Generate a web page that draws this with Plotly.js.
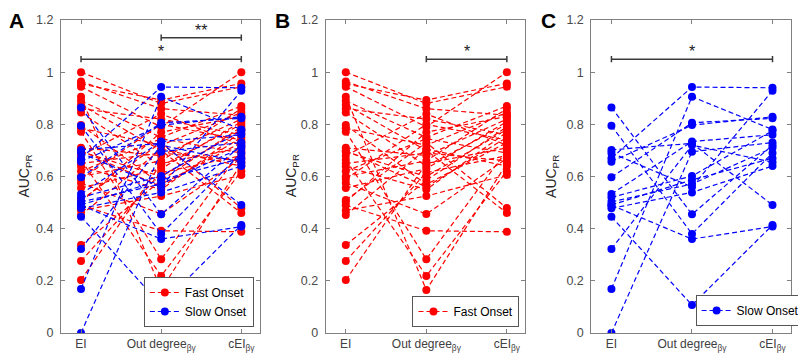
<!DOCTYPE html>
<html><head><meta charset="utf-8">
<script src="https://cdn.plot.ly/plotly-3.0.1.min.js"></script>
<style>html,body{margin:0;padding:0;overflow:hidden;background:#fff}#chart{width:806px;height:358px}</style>
</head><body><div id="chart"></div>
<script>
// ---- data ----
const categories = [1, 2, 3];
const tickLabels = ['EI', 'Out degree<sub>βγ</sub>', 'cEI<sub>βγ</sub>'];
const yTicks = [0, 0.2, 0.4, 0.6, 0.8, 1, 1.2];
const yTickText = ['0', '0.2', '0.4', '0.6', '0.8', '1', '1.2'];

// Fast onset patients (EI, Out degree, cEI)
const fastEI  = [1.00, 0.964, 0.955, 0.944, 0.906, 0.89, 0.875, 0.86, 0.845, 0.797, 0.785, 0.772, 0.71, 0.695, 0.68, 0.663, 0.638, 0.62, 0.60, 0.59, 0.575, 0.556, 0.503, 0.49, 0.47, 0.452, 0.337, 0.276, 0.203, 0.51, 0.65, 0.70];
const fastOut = [0.88, 0.86, 0.893, 0.79, 0.165, 0.75, 0.70, 0.82, 0.64, 0.57, 0.72, 0.283, 0.68, 0.60, 0.84, 0.219, 0.55, 0.745, 0.66, 0.80, 0.456, 0.63, 0.77, 0.392, 0.525, 0.705, 0.585, 0.615, 0.65, 0.73, 0.69, 0.56];
const fastCEI = [0.944, 0.835, 0.957, 1.00, 0.65, 0.87, 0.46, 0.76, 0.80, 0.73, 0.845, 0.70, 0.82, 0.78, 0.72, 0.62, 0.77, 0.69, 0.86, 0.74, 0.67, 0.81, 0.83, 0.388, 0.606, 0.64, 0.79, 0.68, 0.71, 0.479, 0.66, 0.75];

// Slow onset patients (EI, Out degree, cEI)
const slowEI  = [0.865, 0.795, 0.702, 0.67, 0.657, 0.597, 0.533, 0.52, 0.503, 0.491, 0.478, 0.446, 0.49, 0.322, 0.169, 0.0, 0.69];
const slowOut = [0.455, 0.38, 0.727, 0.943, 0.797, 0.806, 0.734, 0.602, 0.571, 0.587, 0.539, 0.107, 0.36, 0.72, 0.906, 0.695, 0.56];
const slowCEI = [0.72, 0.69, 0.491, 0.94, 0.829, 0.823, 0.76, 0.775, 0.71, 0.67, 0.64, 0.414, 0.408, 0.655, 0.78, 0.73, 0.929];

const groupNames = ['Fast Onset', 'Slow Onset'];
const groupColors = ['#ff0000', '#0000ff'];

// significance comparisons: [axis suffix, from category, to category, level, label]
const comparisons = [
  ['', 2, 3, 1.132, '**'],
  ['', 1, 3, 1.05, '*'],
  ['2', 2, 3, 1.05, '*'],
  ['3', 1, 3, 1.05, '*']
];

// ---- build ----
function series(ei, out, cei) {
  const x = [], y = [];
  for (let i = 0; i < ei.length; i++) {
    x.push(categories[0], categories[1], categories[2], null);
    y.push(ei[i], out[i], cei[i], null);
  }
  return {x, y};
}
const fast = series(fastEI, fastOut, fastCEI);
const slow = series(slowEI, slowOut, slowCEI);

function trace(s, gi, ax, leg) {
  return {
    type: 'scatter', mode: 'lines+markers', x: s.x, y: s.y,
    xaxis: 'x' + ax, yaxis: 'y' + ax, name: groupNames[gi], legend: leg,
    connectgaps: false, cliponaxis: true,
    line: {color: groupColors[gi], width: 1.2, dash: '5px,3px'},
    marker: {color: groupColors[gi], size: 8, line: {width: 0}}
  };
}
const traces = [
  trace(fast, 0, '', 'legend'),
  trace(slow, 1, '', 'legend'),
  trace(fast, 0, '2', 'legend2'),
  trace(slow, 1, '3', 'legend3')
];

const W = 806, H = 358;
const font = 'Liberation Sans, Arial, sans-serif';
const yDom = [1 - 333 / H, 1 - 20 / H];
function xa(l, r) {
  return {domain: [l / W, r / W], range: [0.75, 3.23], tickvals: categories, ticktext: tickLabels,
    ticks: 'inside', ticklen: 4, tickcolor: '#808080', showline: true, linecolor: '#808080', linewidth: 1,
    mirror: 'ticks', showgrid: false, zeroline: false, fixedrange: true,
    tickfont: {family: font, size: 12, color: '#404040'}};
}
function ya(anchor) {
  return {domain: yDom, range: [0, 1.2], tickvals: yTicks, ticktext: yTickText, anchor: anchor,
    ticks: 'inside', ticklen: 4, tickcolor: '#808080', showline: true, linecolor: '#808080', linewidth: 1,
    mirror: 'ticks', showgrid: false, zeroline: false, fixedrange: true, ticklabelstandoff: 4,
    tickfont: {family: font, size: 12.5, color: '#4a4a4a'}};
}

const shapes = [], annotations = [];
const capH = 0.012;
comparisons.forEach(c => {
  const [ax, a, b, lv, lab] = c;
  const xr = 'x' + ax, yr = 'y' + ax;
  const ln = {color: '#3a3a3a', width: 1.5};
  shapes.push({type: 'line', xref: xr, yref: yr, x0: a, x1: b, y0: lv, y1: lv, line: ln});
  shapes.push({type: 'line', xref: xr, yref: yr, x0: a, x1: a, y0: lv - capH, y1: lv + capH, line: ln});
  shapes.push({type: 'line', xref: xr, yref: yr, x0: b, x1: b, y0: lv - capH, y1: lv + capH, line: ln});
  annotations.push({xref: xr, yref: yr, x: (a + b) / 2, y: lv, text: lab, showarrow: false,
    yanchor: 'bottom', yshift: -3, font: {family: font, size: 16, color: '#222'}});
});

const panels = [['A', 17, 25], ['B', 287, 297], ['C', 557, 561]];
panels.forEach(p => {
  annotations.push({xref: 'paper', yref: 'paper', x: p[1] / W, y: 1 - 21 / H, text: '<b>' + p[0] + '</b>',
    showarrow: false, xanchor: 'center', yanchor: 'middle', font: {family: font, size: 21, color: '#000'}});
  annotations.push({xref: 'paper', yref: 'paper', x: p[2] / W, y: 1 - 176 / H, text: 'AUC<sub>PR</sub>',
    textangle: -90, showarrow: false, xanchor: 'center', yanchor: 'middle', font: {family: font, size: 14, color: '#262626'}});
});

const legBase = {bgcolor: '#fff', bordercolor: '#555', borderwidth: 1, itemwidth: 30,
  font: {family: font, size: 12, color: '#000'}, tracegroupgap: 0};
const layout = {
  width: W, height: H, margin: {l: 0, r: 0, t: 0, b: 0},
  paper_bgcolor: '#fff', plot_bgcolor: '#fff', showlegend: true,
  xaxis: xa(62, 264), yaxis: ya('x'),
  xaxis2: xa(331, 534), yaxis2: ya('x2'),
  xaxis3: xa(601, 804), yaxis3: ya('x3'),
  legend: Object.assign({}, legBase, {x: 258 / W, y: 1 - 327 / H, xanchor: 'right', yanchor: 'bottom'}),
  legend2: Object.assign({}, legBase, {x: 528 / W, y: 1 - 327 / H, xanchor: 'right', yanchor: 'bottom'}),
  legend3: Object.assign({}, legBase, {x: 707 / W, y: 1 - 326 / H, xanchor: 'left', yanchor: 'bottom'}),
  shapes: shapes, annotations: annotations
};
Plotly.newPlot('chart', traces, layout, {displayModeBar: false, staticPlot: true});
</script></body></html>
